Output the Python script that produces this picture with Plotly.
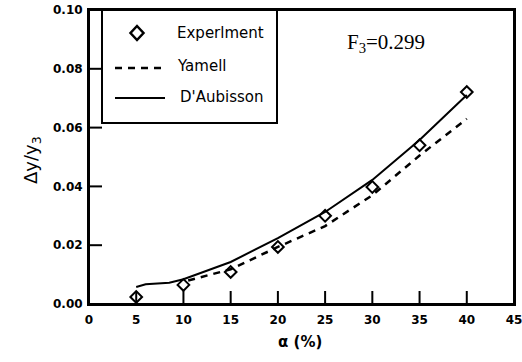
import plotly.graph_objects as go

# Data
alpha_exp = [5, 10, 15, 20, 25, 30, 35, 40]
dy_exp = [0.0024, 0.0065, 0.0109, 0.0194, 0.0300, 0.0398, 0.0540, 0.0721]

alpha_yarnell = [10.5, 15, 20, 25, 30, 35, 40]
dy_yarnell = [0.0080, 0.0118, 0.0194, 0.0265, 0.0370, 0.0505, 0.0630]

alpha_daub = [5, 6, 8.5, 10, 15, 20, 25, 30, 35, 40]
dy_daub = [0.0058, 0.0067, 0.0072, 0.0084, 0.0143, 0.0224, 0.0313, 0.0422, 0.0558, 0.0711]

x_ticks = [0, 5, 10, 15, 20, 25, 30, 35, 40, 45]
y_ticks = [0.00, 0.02, 0.04, 0.06, 0.08, 0.10]

legend_labels = ["Experlment", "Yamell", "D'Aubisson"]

W, H = 522, 362
ML, MR, MT, MB = 89, 8, 10, 58
PW, PH = W - ML - MR, H - MT - MB
TICK = 13


def px(x):
    return (x - ML) / PW


def py(y):
    return (H - MB - y) / PH


fig = go.Figure()
fig.add_trace(go.Scatter(x=alpha_daub, y=dy_daub, mode="lines",
                         line=dict(color="black", width=2), showlegend=False))
fig.add_trace(go.Scatter(x=alpha_yarnell, y=dy_yarnell, mode="lines",
                         line=dict(color="black", width=2.5, dash="7px,6px"), showlegend=False))
fig.add_trace(go.Scatter(x=alpha_exp, y=dy_exp, mode="markers",
                         marker=dict(symbol="diamond-open", size=9, color="black",
                                     line=dict(color="black", width=2)),
                         showlegend=False, cliponaxis=False))

shapes = []
annotations = []
# inside tick marks placed through the axis scales
for xv in x_ticks[1:-1]:
    shapes.append(dict(type="line", xref="x", yref="paper", x0=xv, x1=xv, y0=0, y1=TICK / PH,
                       line=dict(color="black", width=2), layer="above"))
for yv in y_ticks[1:-1]:
    shapes.append(dict(type="line", xref="paper", yref="y", x0=0, x1=TICK / PW, y0=yv, y1=yv,
                       line=dict(color="black", width=2), layer="above"))
# plot frame
shapes.append(dict(type="rect", xref="paper", yref="paper", x0=0, x1=1, y0=0, y1=1,
                   line=dict(color="black", width=2), layer="above"))
# legend box
shapes.append(dict(type="rect", xref="paper", yref="paper",
                   x0=px(102), x1=px(277), y0=py(123), y1=py(10),
                   line=dict(color="black", width=2), fillcolor="white", layer="above"))
# legend diamond
shapes.append(dict(type="path", xref="paper", yref="paper", xsizemode="pixel", ysizemode="pixel",
                   xanchor=px(137), yanchor=py(33),
                   path="M 0 7 L 6.5 0 L 0 -7 L -6.5 0 Z",
                   line=dict(color="black", width=2.5), layer="above"))
# legend dashed
shapes.append(dict(type="line", xref="paper", yref="paper",
                   x0=px(115), x1=px(166), y0=py(68), y1=py(68),
                   line=dict(color="black", width=2.5, dash="7px,6px"), layer="above"))
# legend solid
shapes.append(dict(type="line", xref="paper", yref="paper",
                   x0=px(115), x1=px(165), y0=py(98), y1=py(98),
                   line=dict(color="black", width=2), layer="above"))

leg_font = dict(family="DejaVu Sans", size=15, color="black")
for label, lx, ly in zip(legend_labels, [175, 175, 178], [33, 66, 97]):
    annotations.append(dict(text=label, xref="paper", yref="paper", x=px(lx), y=py(ly),
                            xanchor="left", yanchor="middle", showarrow=False, font=leg_font))

annotations.append(dict(text="F<sub>3</sub>=0.299", xref="paper", yref="paper",
                        x=px(345), y=py(43), xanchor="left", yanchor="middle", showarrow=False,
                        font=dict(family="Liberation Serif", size=21, color="black")))

annotations.append(dict(text="Δy/y<sub>3</sub>", xref="paper", yref="paper",
                        x=px(32), y=py(160), xanchor="center", yanchor="middle", textangle=-90,
                        showarrow=False, font=dict(family="DejaVu Sans", size=18, color="black")))

annotations.append(dict(text="<b>α (%)</b>", xref="paper", yref="paper",
                        x=px(300), y=py(342), xanchor="center", yanchor="middle",
                        showarrow=False, font=dict(family="DejaVu Sans", size=15, color="black")))

axis_common = dict(showgrid=False, zeroline=False, showline=True, linecolor="black", linewidth=2,
                   mirror=True, ticks="", automargin=False, ticklabeloverflow="allow",
                   tickfont=dict(family="DejaVu Sans", size=12, color="black", weight="bold"))

fig.update_layout(
    width=W, height=H,
    margin=dict(l=ML, r=MR, t=MT, b=MB, pad=0, autoexpand=False),
    paper_bgcolor="white", plot_bgcolor="white",
    xaxis=dict(range=[0, 45], tickvals=x_ticks, ticktext=[str(v) for v in x_ticks],
               ticklabelstandoff=4, **axis_common),
    yaxis=dict(range=[0, 0.10], tickvals=y_ticks, ticktext=[f"{v:.2f}" for v in y_ticks],
               ticklabelstandoff=2, **axis_common),
    shapes=shapes, annotations=annotations,
)

fig.write_html("out.html")
